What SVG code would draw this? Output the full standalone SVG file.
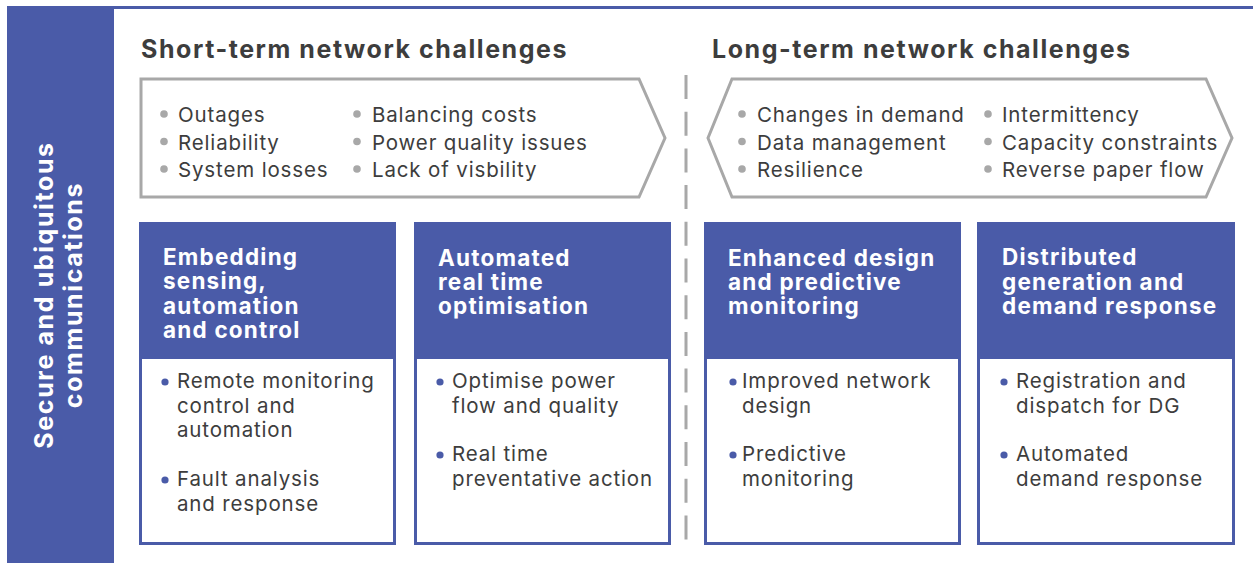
<svg xmlns="http://www.w3.org/2000/svg" width="1253" height="563" viewBox="0 0 1253 563">
  <style>
    .blue { fill: #4a5ba8; }
    .title { font-family: Inter, "Open Sans", "Liberation Sans", sans-serif; font-weight: 700; font-size: 25px; letter-spacing: 1.55px; fill: #3d3d3d; }
    .item { font-family: Inter, "Open Sans", "Liberation Sans", sans-serif; font-size: 20.5px; letter-spacing: 0.85px; fill: #3d3d3d; }
    .head { font-family: Inter, "Open Sans", "Liberation Sans", sans-serif; font-weight: 700; font-size: 22.5px; letter-spacing: 1.2px; fill: #ffffff; }
    .side { font-family: Inter, "Open Sans", "Liberation Sans", sans-serif; font-weight: 700; font-size: 25px; letter-spacing: 1.6px; fill: #ffffff; }
    .chev { fill: #ffffff; stroke: #a8a8a8; stroke-width: 3; stroke-linejoin: miter; }
    .gdot { fill: #a8a8a8; }
    .bdot { fill: #4a5ba8; }
    .card-body { fill: #ffffff; stroke: #4a5ba8; stroke-width: 3; }
  </style>

  <rect width="1253" height="563" fill="#ffffff"/>

  <!-- side band and top rule -->
  <g id="side-band">
    <rect class="blue" x="7" y="6" width="107" height="557"/>
    <rect class="blue" x="7" y="6" width="1246" height="3"/>
    <text class="side" text-anchor="middle" transform="translate(53,295) rotate(-90)">Secure and ubiquitous</text>
    <text class="side" text-anchor="middle" transform="translate(82,295) rotate(-90)">communications</text>
  </g>

  <!-- section titles -->
  <text class="title" x="141" y="58">Short-term network challenges</text>
  <text class="title" x="712" y="58">Long-term network challenges</text>

  <!-- divider -->
  <g id="connectors">
    <line x1="686" y1="75" x2="686" y2="540" stroke="#a8a8a8" stroke-width="3" stroke-dasharray="24 12.7"/>
  </g>

  <!-- short-term challenges -->
  <g id="short-term">
    <polygon class="chev" points="141,79 639,79 665,138 639,197 141,197"/>
    <circle class="gdot" cx="164" cy="114" r="3.8"/>
    <circle class="gdot" cx="164" cy="141.5" r="3.8"/>
    <circle class="gdot" cx="164" cy="169" r="3.8"/>
    <text class="item" x="178" y="122">Outages</text>
    <text class="item" x="178" y="149.5">Reliability</text>
    <text class="item" x="178" y="177">System losses</text>
    <circle class="gdot" cx="357" cy="114" r="3.8"/>
    <circle class="gdot" cx="357" cy="141.5" r="3.8"/>
    <circle class="gdot" cx="357" cy="169" r="3.8"/>
    <text class="item" x="372" y="122">Balancing costs</text>
    <text class="item" x="372" y="149.5">Power quality issues</text>
    <text class="item" x="372" y="177">Lack of visbility</text>
  </g>

  <!-- long-term challenges -->
  <g id="long-term">
    <polygon class="chev" points="732,79 1206,79 1232,138 1206,197 732,197 708,138"/>
    <circle class="gdot" cx="742" cy="114" r="3.8"/>
    <circle class="gdot" cx="742" cy="141.5" r="3.8"/>
    <circle class="gdot" cx="742" cy="169" r="3.8"/>
    <text class="item" x="757" y="122">Changes in demand</text>
    <text class="item" x="757" y="149.5">Data management</text>
    <text class="item" x="757" y="177">Resilience</text>
    <circle class="gdot" cx="988" cy="114" r="3.8"/>
    <circle class="gdot" cx="988" cy="141.5" r="3.8"/>
    <circle class="gdot" cx="988" cy="169" r="3.8"/>
    <text class="item" x="1002" y="122">Intermittency</text>
    <text class="item" x="1002" y="149.5">Capacity constraints</text>
    <text class="item" x="1002" y="177">Reverse paper flow</text>
  </g>

  <!-- card 1 -->
  <g id="card-sensing">
    <rect class="card-body" x="140.5" y="223.5" width="254" height="320"/>
    <rect class="blue" x="139" y="222" width="257" height="137"/>
    <text class="head" x="163" y="265">Embedding</text>
    <text class="head" x="163" y="289.3">sensing,</text>
    <text class="head" x="163" y="313.6">automation</text>
    <text class="head" x="163" y="338">and control</text>
    <circle class="bdot" cx="165" cy="382" r="3.6"/>
    <text class="item" x="177" y="388">Remote monitoring</text>
    <text class="item" x="177" y="412.5">control and</text>
    <text class="item" x="177" y="437">automation</text>
    <circle class="bdot" cx="165" cy="480" r="3.6"/>
    <text class="item" x="177" y="486">Fault analysis</text>
    <text class="item" x="177" y="510.5">and response</text>
  </g>

  <!-- card 2 -->
  <g id="card-optimisation">
    <rect class="card-body" x="415.5" y="223.5" width="254" height="320"/>
    <rect class="blue" x="414" y="222" width="257" height="137"/>
    <text class="head" x="438" y="266">Automated</text>
    <text class="head" x="438" y="290">real time</text>
    <text class="head" x="438" y="314">optimisation</text>
    <circle class="bdot" cx="440" cy="382" r="3.6"/>
    <text class="item" x="452" y="388">Optimise power</text>
    <text class="item" x="452" y="412.5">flow and quality</text>
    <circle class="bdot" cx="440" cy="455" r="3.6"/>
    <text class="item" x="452" y="461">Real time</text>
    <text class="item" x="452" y="485.5">preventative action</text>
  </g>

  <!-- card 3 -->
  <g id="card-design">
    <rect class="card-body" x="705.5" y="223.5" width="254" height="320"/>
    <rect class="blue" x="704" y="222" width="257" height="137"/>
    <text class="head" x="728" y="266">Enhanced design</text>
    <text class="head" x="728" y="290">and predictive</text>
    <text class="head" x="728" y="314">monitoring</text>
    <circle class="bdot" cx="733" cy="382" r="3.6"/>
    <text class="item" x="742" y="388">Improved network</text>
    <text class="item" x="742" y="412.5">design</text>
    <circle class="bdot" cx="733" cy="455" r="3.6"/>
    <text class="item" x="742" y="461">Predictive</text>
    <text class="item" x="742" y="485.5">monitoring</text>
  </g>

  <!-- card 4 -->
  <g id="card-generation">
    <rect class="card-body" x="978.5" y="223.5" width="255" height="320"/>
    <rect class="blue" x="977" y="222" width="258" height="137"/>
    <text class="head" x="1002" y="265">Distributed</text>
    <text class="head" x="1002" y="289.5">generation and</text>
    <text class="head" x="1002" y="314">demand response</text>
    <circle class="bdot" cx="1004" cy="382" r="3.6"/>
    <text class="item" x="1016" y="388">Registration and</text>
    <text class="item" x="1016" y="412.5">dispatch for DG</text>
    <circle class="bdot" cx="1004" cy="455" r="3.6"/>
    <text class="item" x="1016" y="461">Automated</text>
    <text class="item" x="1016" y="485.5">demand response</text>
  </g>
</svg>
